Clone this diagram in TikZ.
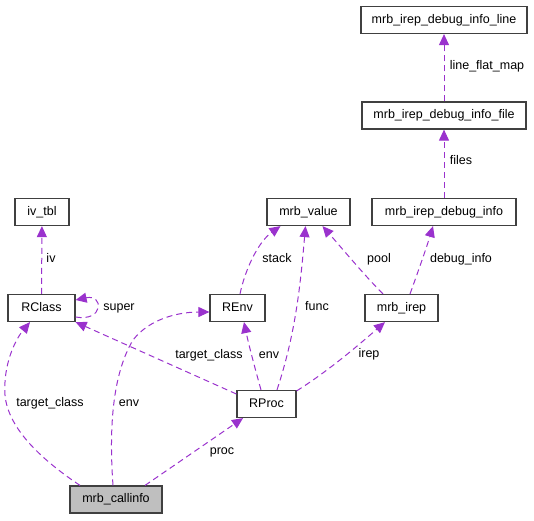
\documentclass[tikz,border=0pt]{standalone}
\usepackage{fontspec}
\setmainfont{Liberation Sans}
\usetikzlibrary{arrows.meta,calc}
\definecolor{edgec}{HTML}{9A32CD}
\definecolor{boxc}{HTML}{404040}
\definecolor{callfill}{HTML}{BFBFBF}
\begin{document}
\begin{tikzpicture}[x=1pt,y=-1pt,
  box/.style={draw=boxc,line width=1.2pt,fill=white,minimum height=27pt,inner sep=0pt,
    text height=9pt,text depth=3pt,font=\fontsize{12.5}{14}\selectfont},
  edge/.style={draw=edgec,dash pattern=on 6pt off 4pt,line width=1pt,
    -{Triangle[length=11pt,width=10pt,fill=edgec]}},
  lbl/.style={font=\fontsize{12.5}{14}\selectfont,inner sep=0pt,text height=9pt,text depth=3pt}]
\useasboundingbox (0,0) rectangle (534,520);
% nodes
\node[box,minimum width=166pt] (line) at (444,20) {mrb\_irep\_debug\_info\_line};
\node[box,minimum width=164pt] (file) at (444,115.5) {mrb\_irep\_debug\_info\_file};
\node[box,minimum width=144pt] (dbg) at (444,212) {mrb\_irep\_debug\_info};
\node[box,minimum width=83pt] (val) at (308.5,212) {mrb\_value};
\node[box,minimum width=54pt] (ivtbl) at (42,212) {iv\_tbl};
\node[box,minimum width=67pt] (rclass) at (41.5,308) {RClass};
\node[box,minimum width=55pt] (renv) at (237.5,308) {REnv};
\node[box,minimum width=73pt] (irep) at (401.5,308) {mrb\_irep};
\node[box,minimum width=59pt] (rproc) at (266.5,404) {RProc};
\node[box,minimum width=92pt,fill=callfill] (call) at (116,499.5) {mrb\_callinfo};
% edges
\draw[edge] (file) -- (line);
\draw[edge] (dbg) -- (file);
\draw[edge] ($(irep.north)+(8.5,0)$) .. controls (418,272) and (427,246) .. ($(dbg.south)+(-11,0)$);
\draw[edge] ($(irep.north)+(-18.5,0)$) .. controls (365,276) and (340,246) .. ($(val.south)+(14,0)$);
\draw[edge] ($(renv.north)+(2.5,0)$) .. controls (245,270) and (258,242) .. ($(val.south)+(-28,0)$);
\draw[edge] ($(rproc.north)+(10.5,0)$) .. controls (295,335) and (300,290) .. ($(val.south)+(-3,0)$);
\draw[edge] (rclass) -- (ivtbl);
\draw[edge] ($(rclass.east)+(0,9)$) .. controls (104,322) and (104,294) .. ($(rclass.east)+(0,-8)$);
\draw[edge] ($(rproc.north east)+(0,1)$) .. controls (330,370) and (362,342) .. ($(irep.south)+(-16.5,0)$);
\draw[edge] ($(rproc.north)+(-5.5,0)$) .. controls (256,372) and (249,346) .. ($(renv.south)+(6.5,0)$);
\draw[edge] ($(rproc.west)+(0,-10)$) -- (rclass.south east);
\draw[edge] ($(call.north)+(-36,0)$) .. controls (45,462) and (8,430) .. (5,395)
  .. controls (3,365) and (15,340) .. ($(rclass.south)+(-11.5,0)$);
\draw[edge] ($(call.north)+(-3,0)$) .. controls (109,430) and (112,375) .. (133,340)
  .. controls (150,318) and (180,312) .. ($(renv.west)+(0,4)$);
\draw[edge] ($(call.north)+(29,0)$) -- ($(rproc.south)+(-23.5,0)$);
% labels
\node[lbl] (l1) at (487,66) {line\_flat\_map};
\node[lbl] (l2) at (461,161) {files};
\node[lbl] (l3) at (461,259) {debug\_info};
\node[lbl] (l4) at (379,259) {pool};
\node[lbl] (l5) at (277,259) {stack};
\node[lbl] (l6) at (317,307) {func};
\node[lbl] (l7) at (51,259) {iv};
\node[lbl] (l8) at (119,307) {super};
\node[lbl] (l9) at (209,355) {target\_class};
\node[lbl] (l10) at (269,355) {env};
\node[lbl] (l11) at (369,354) {irep};
\node[lbl] (l12) at (50,403) {target\_class};
\node[lbl] (l13) at (129,403) {env};
\node[lbl] (l14) at (222,451) {proc};
\end{tikzpicture}
\end{document}
